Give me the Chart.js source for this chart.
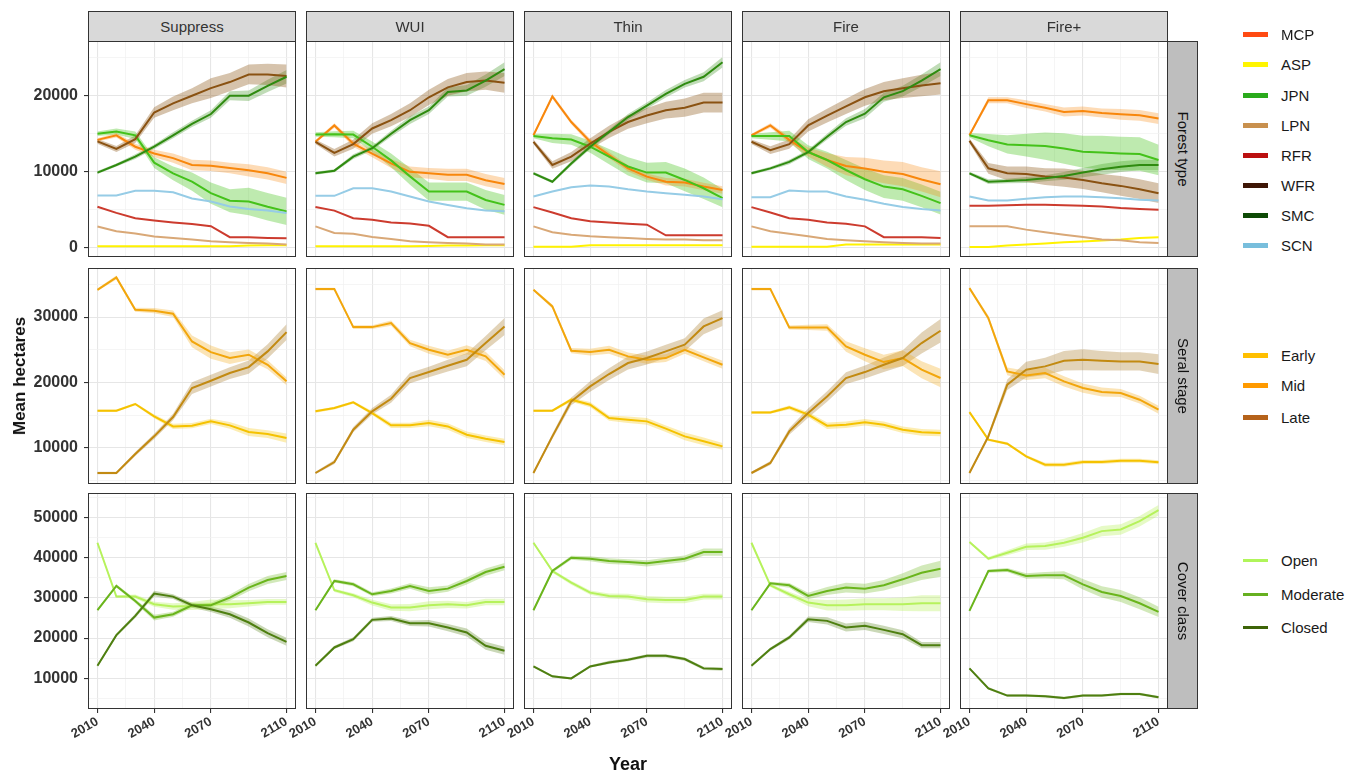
<!DOCTYPE html>
<html>
<head>
<meta charset="utf-8">
<script src="https://cdn.jsdelivr.net/npm/chart.js@4.4.1/dist/chart.umd.min.js"></script>
<style>
body { margin: 0; background: #fff; font-family: Arial, "Liberation Sans", sans-serif; }
#wrap { position: relative; width: 1359px; height: 774px; overflow: hidden; background: #fff; }
canvas { position: absolute; }
.strip { position: absolute; background: #d9d9d9; border: 1px solid #333; box-sizing: border-box; color: #333; font-size: 15px; display: flex; align-items: center; justify-content: center; }
.rstrip { position: absolute; background: #bebebe; border: 1px solid #333; box-sizing: border-box; color: #111; font-size: 15px; }
.rstrip span { position: absolute; left: 50%; top: 50%; transform: translate(-50%, -50%) rotate(90deg); white-space: nowrap; }
.key { position: absolute; width: 25px; }
.lab { position: absolute; font-size: 15px; color: #1a1a1a; transform: translateY(-50%); }
.title { position: absolute; font-weight: bold; font-size: 17px; color: #111; white-space: nowrap; }
</style>
</head>
<body>
<div id="wrap"></div>
<script>
// ---- data ----
const years = [2010, 2020, 2030, 2040, 2050, 2060, 2070, 2080, 2090, 2100, 2110];
const scenarios = ['Suppress', 'WUI', 'Thin', 'Fire', 'Fire+'];
const forestTypes = ['MCP', 'ASP', 'JPN', 'LPN', 'RFR', 'WFR', 'SMC', 'SCN'];
const seralStages = ['Early', 'Mid', 'Late'];
const coverClasses = ['Open', 'Moderate', 'Closed'];
const rowLabels = ['Forest type', 'Seral stage', 'Cover class'];

const xMajor = [2010, 2040, 2070, 2110];
const xMinor = [2025, 2055, 2090];
const forestMajor = [0, 10000, 20000];
const forestMinor = [5000, 15000, 25000];
const seralMajor = [10000, 20000, 30000];
const seralMinor = [5000, 15000, 25000, 35000];
const coverMajor = [10000, 20000, 30000, 40000, 50000];
const coverMinor = [5000, 15000, 25000, 35000, 45000, 55000];

// Forest type - Suppress
const suppressMCP = [14200, 14800, 13300, 12400, 11800, 10900, 10800, 10500, 10200, 9800, 9200];
const suppressASP = [200, 200, 200, 200, 200, 200, 200, 200, 300, 350, 350];
const suppressJPN = [15000, 15300, 14800, 11200, 9800, 8700, 7200, 6200, 6100, 5400, 4800];
const suppressLPN = [2800, 2200, 1900, 1500, 1300, 1100, 870, 740, 650, 570, 450];
const suppressRFR = [5400, 4600, 3900, 3600, 3350, 3150, 2850, 1400, 1400, 1300, 1250];
const suppressWFR = [14000, 13000, 14300, 17800, 19000, 20000, 21000, 21800, 22800, 22800, 22600];
const suppressSMC = [9900, 10900, 12000, 13300, 14800, 16300, 17600, 20000, 20000, 21300, 22500];
const suppressSCN = [6900, 6900, 7500, 7500, 7300, 6500, 6100, 5450, 5100, 4900, 4600];
const suppressMCPsd = [200, 300, 400, 500, 600, 700, 700, 700, 800, 800, 800];
const suppressJPNsd = [300, 400, 500, 700, 900, 1200, 1400, 1500, 1800, 1800, 1800];
const suppressWFRsd = [300, 400, 500, 700, 900, 1000, 1300, 1200, 1300, 1400, 1500];
const suppressSMCsd = [200, 200, 300, 300, 400, 400, 500, 600, 700, 800, 900];

// Forest type - WUI
const wuiMCP = [13950, 16100, 13700, 12400, 11100, 10000, 9800, 9600, 9600, 8900, 8400];
const wuiASP = [200, 200, 200, 200, 200, 200, 250, 300, 300, 350, 350];
const wuiJPN = [14900, 14950, 14900, 13300, 11500, 9400, 7400, 7400, 7400, 6300, 5650];
const wuiLPN = [2830, 1960, 1870, 1440, 1180, 870, 740, 650, 570, 440, 440];
const wuiRFR = [5360, 4900, 3900, 3700, 3350, 3200, 2900, 1400, 1400, 1400, 1400];
const wuiWFR = [13950, 12500, 13640, 15700, 16800, 18100, 19800, 21100, 21800, 22000, 21700];
const wuiSMC = [9800, 10150, 12000, 13100, 15000, 16800, 18100, 20500, 20700, 22000, 23500];
const wuiSCN = [6840, 6840, 7840, 7840, 7400, 6750, 6100, 5650, 5200, 4900, 4800];
const wuiMCPsd = [200, 300, 400, 500, 600, 700, 700, 800, 800, 800, 800];
const wuiJPNsd = [300, 400, 500, 700, 900, 1100, 1200, 1200, 1200, 1300, 1300];
const wuiWFRsd = [300, 500, 600, 700, 800, 900, 1000, 1100, 1200, 1200, 1300];
const wuiSMCsd = [200, 200, 300, 300, 400, 500, 500, 600, 700, 800, 900];

// Forest type - Thin
const thinMCP = [14800, 19900, 16550, 13950, 12200, 10450, 9370, 8700, 8580, 8060, 7600];
const thinASP = [150, 150, 150, 350, 350, 350, 350, 350, 350, 350, 350];
const thinJPN = [14700, 14400, 14250, 13300, 12000, 10700, 9900, 9900, 8930, 7840, 6540];
const thinLPN = [2830, 2050, 1740, 1530, 1400, 1300, 1180, 1090, 1090, 1000, 1000];
const thinRFR = [5360, 4660, 3900, 3500, 3350, 3180, 3050, 1650, 1650, 1650, 1650];
const thinWFR = [13950, 10900, 12000, 13700, 15250, 16550, 17400, 18100, 18430, 19100, 19100];
const thinSMC = [9800, 8700, 11100, 13300, 15250, 17200, 18700, 20260, 21570, 22500, 24400];
const thinSCN = [6750, 7400, 7970, 8200, 8060, 7700, 7400, 7190, 6970, 6750, 6400];
const thinMCPsd = [200, 300, 300, 400, 400, 400, 400, 500, 500, 500, 500];
const thinJPNsd = [300, 600, 700, 800, 1000, 1200, 1300, 1400, 1500, 1400, 1200];
const thinWFRsd = [300, 500, 600, 700, 800, 900, 1000, 1100, 1200, 1300, 1300];
const thinSMCsd = [200, 200, 300, 300, 300, 400, 400, 500, 500, 600, 700];

// Forest type - Fire
const fireMCP = [14800, 16100, 14200, 12600, 11550, 10760, 10450, 10000, 9700, 9000, 8370];
const fireASP = [150, 150, 150, 150, 150, 440, 440, 440, 440, 440, 440];
const fireJPN = [14700, 14700, 14700, 12600, 11550, 10240, 9020, 8060, 7700, 6840, 5880];
const fireLPN = [2830, 2180, 1870, 1530, 1180, 1000, 870, 740, 650, 570, 570];
const fireRFR = [5360, 4660, 3900, 3700, 3350, 3180, 2830, 1400, 1400, 1400, 1300];
const fireWFR = [13950, 12850, 13640, 16100, 17400, 18600, 19800, 20600, 21000, 21350, 21650];
const fireSMC = [9800, 10450, 11300, 12600, 14600, 16550, 17650, 19800, 20600, 22000, 23500];
const fireSCN = [6670, 6670, 7540, 7400, 7400, 6750, 6320, 5800, 5360, 5100, 4920];
const fireMCPsd = [200, 300, 400, 600, 900, 1200, 1400, 1500, 1600, 1600, 1700];
const fireJPNsd = [300, 500, 700, 900, 1100, 1300, 1400, 1500, 1500, 1500, 1500];
const fireWFRsd = [300, 500, 600, 800, 900, 1000, 1100, 1200, 1300, 1400, 1500];
const fireSMCsd = [200, 200, 300, 300, 400, 500, 600, 600, 700, 800, 900];

// Forest type - Fire+
const firePlusMCP = [14800, 19400, 19400, 18900, 18430, 17870, 18000, 17730, 17560, 17430, 17000];
const firePlusASP = [130, 130, 300, 440, 570, 740, 830, 960, 1090, 1300, 1400];
const firePlusJPN = [14800, 14160, 13600, 13500, 13380, 13070, 12640, 12550, 12420, 12330, 11550];
const firePlusLPN = [2830, 2830, 2830, 2400, 2050, 1740, 1440, 1090, 1000, 740, 650];
const firePlusRFR = [5530, 5530, 5620, 5660, 5660, 5620, 5530, 5450, 5230, 5100, 5010];
const firePlusWFR = [14070, 10460, 9800, 9700, 9370, 9240, 8930, 8500, 8150, 7710, 7190];
const firePlusSMC = [9800, 8710, 8800, 8930, 9150, 9460, 9900, 10330, 10680, 10900, 10900];
const firePlusSCN = [6750, 6230, 6230, 6450, 6670, 6750, 6750, 6670, 6540, 6320, 6230];
const firePlusMCPsd = [200, 400, 400, 500, 500, 600, 600, 600, 700, 700, 700];
const firePlusJPNsd = [300, 800, 1200, 1500, 1800, 2000, 2100, 2200, 2200, 2200, 2000];
const firePlusWFRsd = [300, 700, 900, 1000, 1100, 1200, 1200, 1200, 1300, 1300, 1300];
const firePlusSMCsd = [200, 300, 300, 400, 400, 500, 600, 700, 700, 700, 700];

// Seral stage
const suppressEarly = [15700, 15700, 16720, 14830, 13300, 13410, 14070, 13460, 12440, 12130, 11520];
const suppressMid = [34170, 36060, 31120, 30970, 30510, 26280, 24650, 23740, 24250, 22720, 20180];
const suppressLate = [6180, 6180, 9080, 11780, 14730, 19160, 20280, 21450, 22360, 24760, 27710];
const suppressEarlySd = [200, 200, 200, 300, 400, 400, 400, 500, 600, 600, 700];
const suppressMidSd = [200, 300, 300, 400, 500, 900, 1000, 900, 800, 700, 600];
const suppressLateSd = [200, 200, 300, 400, 500, 900, 900, 900, 1000, 1100, 1200];

const wuiEarly = [15600, 16100, 16970, 15340, 13460, 13460, 13810, 13300, 12030, 11420, 10910];
const wuiMid = [34280, 34280, 28470, 28470, 29080, 26030, 25010, 24250, 25010, 24000, 21190];
const wuiLate = [6180, 7860, 12800, 15600, 17530, 20690, 21600, 22570, 23480, 26030, 28570];
const wuiEarlySd = [200, 200, 200, 300, 400, 400, 500, 500, 500, 500, 500];
const wuiMidSd = [200, 200, 300, 300, 400, 500, 600, 600, 700, 700, 700];
const wuiLateSd = [200, 300, 400, 500, 600, 800, 800, 900, 1000, 1100, 1300];

const thinEarly = [15700, 15700, 17380, 16620, 14580, 14320, 14070, 12950, 11780, 11020, 10250];
const thinMid = [34170, 31630, 24860, 24650, 25010, 24000, 23490, 23740, 25010, 23840, 22720];
const thinLate = [6180, 11780, 17120, 19410, 21300, 22980, 23740, 24760, 25780, 28570, 29850];
const thinEarlySd = [200, 200, 300, 400, 400, 500, 500, 500, 600, 600, 500];
const thinMidSd = [200, 300, 400, 500, 600, 600, 600, 600, 600, 600, 600];
const thinLateSd = [200, 400, 600, 800, 900, 1000, 1000, 1000, 1000, 1200, 1200];

const fireEarly = [15440, 15440, 16200, 15090, 13410, 13560, 13920, 13560, 12800, 12390, 12290];
const fireMid = [34280, 34280, 28420, 28420, 28420, 25520, 24250, 23130, 23740, 21960, 20690];
const fireLate = [6180, 7710, 12540, 15340, 17880, 20690, 21600, 22720, 23740, 26030, 27910];
const fireEarlySd = [200, 200, 300, 400, 500, 500, 500, 500, 500, 500, 500];
const fireMidSd = [200, 200, 300, 400, 500, 800, 1000, 1100, 1200, 1300, 1400];
const fireLateSd = [200, 300, 500, 700, 800, 900, 1000, 1100, 1200, 1600, 1800];

const firePlusEarly = [15490, 11270, 10660, 8720, 7450, 7450, 7860, 7860, 8060, 8060, 7810];
const firePlusMid = [34430, 29850, 21700, 21090, 21450, 20180, 19160, 18550, 18400, 17380, 15850];
const firePlusLate = [6180, 11780, 19670, 21960, 22470, 23330, 23480, 23330, 23230, 23230, 22820];
const firePlusEarlySd = [200, 200, 200, 200, 300, 300, 300, 300, 300, 300, 300];
const firePlusMidSd = [200, 400, 600, 700, 800, 800, 700, 700, 600, 600, 600];
const firePlusLateSd = [200, 400, 800, 1200, 1300, 1500, 1600, 1500, 1400, 1400, 1500];

// Cover class
const suppressOpen = [43650, 30290, 30290, 28390, 27820, 27980, 28390, 28390, 28640, 28970, 28970];
const suppressModerate = [26910, 32930, 29220, 25090, 25920, 28150, 28150, 30040, 32520, 34410, 35400];
const suppressClosed = [13140, 20720, 25510, 31030, 30290, 28150, 27160, 25920, 23860, 21220, 19070];
const suppressOpenSd = [300, 300, 500, 600, 800, 1000, 1200, 1000, 800, 700, 700];
const suppressModerateSd = [300, 400, 500, 700, 600, 600, 600, 800, 900, 1000, 1000];
const suppressClosedSd = [300, 400, 500, 700, 600, 600, 700, 900, 1000, 1000, 1000];

const wuiOpen = [43650, 31860, 30620, 28810, 27570, 27570, 28150, 28390, 28150, 28970, 28970];
const wuiModerate = [26910, 34170, 33340, 30870, 31690, 32930, 31690, 32270, 34170, 36390, 37710];
const wuiClosed = [13140, 17670, 19730, 24520, 24850, 23690, 23690, 22620, 21380, 18080, 16850];
const wuiOpenSd = [300, 400, 500, 700, 800, 900, 1000, 900, 800, 800, 800];
const wuiModerateSd = [300, 400, 500, 500, 600, 700, 900, 800, 900, 900, 900];
const wuiClosedSd = [300, 400, 500, 500, 600, 700, 800, 900, 1000, 1000, 1000];

const thinOpen = [43650, 36640, 33750, 31280, 30450, 30290, 29630, 29470, 29470, 30290, 30290];
const thinModerate = [26910, 36640, 39940, 39690, 39110, 38870, 38540, 39110, 39690, 41340, 41340];
const thinClosed = [12970, 10500, 10000, 12970, 13960, 14620, 15610, 15610, 14790, 12480, 12310];
const thinOpenSd = [300, 400, 500, 500, 600, 700, 800, 800, 800, 700, 700];
const thinModerateSd = [300, 400, 500, 600, 700, 700, 800, 800, 800, 900, 900];
const thinClosedSd = [300, 300, 300, 300, 400, 400, 400, 400, 400, 400, 400];

const fireOpen = [43650, 33090, 30870, 28810, 28150, 28150, 28390, 28390, 28390, 28640, 28640];
const fireModerate = [26910, 33590, 33090, 30450, 31690, 32520, 32270, 33090, 34580, 36220, 37210];
const fireClosed = [13140, 17260, 20150, 24680, 24270, 22620, 23030, 22040, 20970, 18250, 18250];
const fireOpenSd = [300, 400, 600, 900, 1300, 1400, 1500, 1500, 1700, 2000, 2000];
const fireModerateSd = [300, 400, 600, 800, 1000, 1200, 1200, 1300, 1500, 1800, 2000];
const fireClosedSd = [300, 400, 500, 700, 900, 1000, 1000, 1000, 1000, 800, 800];

const firePlusOpen = [43820, 39690, 41180, 42660, 42830, 43650, 44890, 46540, 46950, 49010, 51730];
const firePlusModerate = [26740, 36640, 36890, 35400, 35570, 35570, 33340, 31440, 30450, 28640, 26500];
const firePlusClosed = [12480, 7530, 5720, 5720, 5550, 5140, 5720, 5720, 6130, 6130, 5300];
const firePlusOpenSd = [300, 400, 600, 800, 900, 1000, 1200, 1300, 1300, 1300, 1300];
const firePlusModerateSd = [300, 400, 500, 700, 800, 1000, 1300, 1400, 1500, 1500, 1300];
const firePlusClosedSd = [300, 300, 300, 300, 300, 300, 300, 300, 300, 300, 300];

// ---- tables built from the arrays above ----
const means = [
  [ // forest type
    {MCP: suppressMCP, ASP: suppressASP, JPN: suppressJPN, LPN: suppressLPN, RFR: suppressRFR, WFR: suppressWFR, SMC: suppressSMC, SCN: suppressSCN},
    {MCP: wuiMCP, ASP: wuiASP, JPN: wuiJPN, LPN: wuiLPN, RFR: wuiRFR, WFR: wuiWFR, SMC: wuiSMC, SCN: wuiSCN},
    {MCP: thinMCP, ASP: thinASP, JPN: thinJPN, LPN: thinLPN, RFR: thinRFR, WFR: thinWFR, SMC: thinSMC, SCN: thinSCN},
    {MCP: fireMCP, ASP: fireASP, JPN: fireJPN, LPN: fireLPN, RFR: fireRFR, WFR: fireWFR, SMC: fireSMC, SCN: fireSCN},
    {MCP: firePlusMCP, ASP: firePlusASP, JPN: firePlusJPN, LPN: firePlusLPN, RFR: firePlusRFR, WFR: firePlusWFR, SMC: firePlusSMC, SCN: firePlusSCN}
  ],
  [ // seral stage
    {Early: suppressEarly, Mid: suppressMid, Late: suppressLate},
    {Early: wuiEarly, Mid: wuiMid, Late: wuiLate},
    {Early: thinEarly, Mid: thinMid, Late: thinLate},
    {Early: fireEarly, Mid: fireMid, Late: fireLate},
    {Early: firePlusEarly, Mid: firePlusMid, Late: firePlusLate}
  ],
  [ // cover class
    {Open: suppressOpen, Moderate: suppressModerate, Closed: suppressClosed},
    {Open: wuiOpen, Moderate: wuiModerate, Closed: wuiClosed},
    {Open: thinOpen, Moderate: thinModerate, Closed: thinClosed},
    {Open: fireOpen, Moderate: fireModerate, Closed: fireClosed},
    {Open: firePlusOpen, Moderate: firePlusModerate, Closed: firePlusClosed}
  ]
];
const spreads = [
  [
    {MCP: suppressMCPsd, JPN: suppressJPNsd, WFR: suppressWFRsd, SMC: suppressSMCsd},
    {MCP: wuiMCPsd, JPN: wuiJPNsd, WFR: wuiWFRsd, SMC: wuiSMCsd},
    {MCP: thinMCPsd, JPN: thinJPNsd, WFR: thinWFRsd, SMC: thinSMCsd},
    {MCP: fireMCPsd, JPN: fireJPNsd, WFR: fireWFRsd, SMC: fireSMCsd},
    {MCP: firePlusMCPsd, JPN: firePlusJPNsd, WFR: firePlusWFRsd, SMC: firePlusSMCsd}
  ],
  [
    {Early: suppressEarlySd, Mid: suppressMidSd, Late: suppressLateSd},
    {Early: wuiEarlySd, Mid: wuiMidSd, Late: wuiLateSd},
    {Early: thinEarlySd, Mid: thinMidSd, Late: thinLateSd},
    {Early: fireEarlySd, Mid: fireMidSd, Late: fireLateSd},
    {Early: firePlusEarlySd, Mid: firePlusMidSd, Late: firePlusLateSd}
  ],
  [
    {Open: suppressOpenSd, Moderate: suppressModerateSd, Closed: suppressClosedSd},
    {Open: wuiOpenSd, Moderate: wuiModerateSd, Closed: wuiClosedSd},
    {Open: thinOpenSd, Moderate: thinModerateSd, Closed: thinClosedSd},
    {Open: fireOpenSd, Moderate: fireModerateSd, Closed: fireClosedSd},
    {Open: firePlusOpenSd, Moderate: firePlusModerateSd, Closed: firePlusClosedSd}
  ]
];
const rowSeries = [forestTypes, seralStages, coverClasses];
const rowTicks = [[forestMajor, forestMinor], [seralMajor, seralMinor], [coverMajor, coverMinor]];
const rowRange = [[-1200, 27200], [4500, 37500], [2400, 56000]];

// ---- styles ----
const lineColors = {
  MCP: '#f8870c', ASP: '#fff200', JPN: '#44c21a', LPN: '#d9a877', RFR: '#cc3b2e',
  WFR: '#8a5212', SMC: '#2f8b10', SCN: '#96cce6',
  Early: '#f5c200', Mid: '#f2a60c', Late: '#c28a12',
  Open: '#b6f25c', Moderate: '#6ab51c', Closed: '#4e7f10'
};
const ribbonColors = {
  MCP: 'rgba(248,135,12,0.3)', JPN: 'rgba(68,194,26,0.35)', WFR: 'rgba(138,82,18,0.35)', SMC: 'rgba(47,139,16,0.3)',
  Early: 'rgba(245,194,0,0.3)', Mid: 'rgba(242,166,12,0.3)', Late: 'rgba(160,110,20,0.3)',
  Open: 'rgba(182,242,92,0.35)', Moderate: 'rgba(106,181,28,0.3)', Closed: 'rgba(78,127,16,0.3)'
};
const keyColors = {
  MCP: '#ff4a12', ASP: '#fff500', JPN: '#2aaa1c', LPN: '#c8904e', RFR: '#bb1010',
  WFR: '#3e1606', SMC: '#0e4a06', SCN: '#78bedc',
  Early: '#ffbf00', Mid: '#ff9a00', Late: '#b5621a',
  Open: '#b0f55a', Moderate: '#66b020', Closed: '#3d6408'
};

const colLeft = [88, 306, 524, 742, 960];
const rowTop = [41, 268, 493];
const PW = 208, PH = 216;
const fontFamily = 'Arial, "Liberation Sans", sans-serif';
Chart.defaults.font.family = fontFamily;

const wrap = document.getElementById('wrap');

const framePlugin = {
  id: 'frame',
  afterDraw(chart) {
    const {ctx, chartArea: a} = chart;
    ctx.save();
    ctx.strokeStyle = '#333';
    ctx.lineWidth = 1;
    ctx.strokeRect(Math.round(a.left) + 0.5, Math.round(a.top) + 0.5, Math.round(a.right - a.left) - 1, Math.round(a.bottom - a.top) - 1);
    ctx.restore();
  }
};

function makePanel(r, c) {
  const first = c === 0, bottom = r === 2;
  const yW = first ? 88 : 0, xH = bottom ? 62 : 0;
  const pad = {left: first ? 0 : 40, right: 14, top: 8, bottom: 4};
  const cv = document.createElement('canvas');
  cv.width = pad.left + yW + PW + pad.right;
  cv.height = pad.top + PH + xH + pad.bottom;
  cv.style.left = (colLeft[c] - yW - pad.left) + 'px';
  cv.style.top = (rowTop[r] - pad.top) + 'px';
  wrap.appendChild(cv);

  const names = rowSeries[r];
  const m = means[r][c], sd = spreads[r][c];
  const [yMajor, yMinor] = rowTicks[r];
  const sets = [];
  // ribbons first (filled between lower and upper bound)
  names.forEach(n => {
    if (!sd[n]) return;
    sets.push({data: years.map((x, i) => ({x, y: m[n][i] - sd[n][i]})), borderWidth: 0, pointRadius: 0, fill: false});
    sets.push({data: years.map((x, i) => ({x, y: m[n][i] + sd[n][i]})), borderWidth: 0, pointRadius: 0, fill: '-1', backgroundColor: ribbonColors[n]});
  });
  // mean lines, last series on top
  names.slice().reverse().forEach(n => {
    sets.push({data: years.map((x, i) => ({x, y: m[n][i]})), borderColor: lineColors[n], borderWidth: 2, pointRadius: 0, fill: false, tension: 0});
  });

  new Chart(cv, {
    type: 'line',
    data: {datasets: sets},
    options: {
      responsive: false,
      animation: false,
      devicePixelRatio: 1,
      layout: {padding: pad},
      plugins: {legend: {display: false}, tooltip: {enabled: false}, filler: {drawTime: 'beforeDatasetsDraw'}},
      scales: {
        x: {
          type: 'linear', min: 2005, max: 2115,
          afterBuildTicks: s => { s.ticks = xMajor.concat(xMinor).sort((a, b) => a - b).map(v => ({value: v})); },
          afterFit: s => { s.height = xH; s.paddingLeft = 0; s.paddingRight = 0; },
          border: {display: false},
          grid: {
            color: ctx => ctx.tick && xMajor.includes(ctx.tick.value) ? '#e6e6e6' : '#f1f1f1',
            lineWidth: ctx => ctx.tick && xMajor.includes(ctx.tick.value) ? 1.1 : 0.7,
            drawTicks: bottom, tickLength: 4,
            tickColor: ctx => ctx.tick && xMajor.includes(ctx.tick.value) ? '#333' : 'rgba(0,0,0,0)'
          },
          ticks: {
            display: bottom, autoSkip: false, minRotation: 30, maxRotation: 30, padding: 1,
            color: '#333', font: {size: 13, weight: 'bold'},
            callback: v => xMajor.includes(v) ? String(v) : ''
          }
        },
        y: {
          min: rowRange[r][0], max: rowRange[r][1],
          afterBuildTicks: s => { s.ticks = yMajor.concat(yMinor).sort((a, b) => a - b).map(v => ({value: v})); },
          afterFit: s => { s.width = yW; s.paddingTop = 0; s.paddingBottom = 0; },
          border: {display: false},
          grid: {
            color: ctx => ctx.tick && yMajor.includes(ctx.tick.value) ? '#e6e6e6' : '#f1f1f1',
            lineWidth: ctx => ctx.tick && yMajor.includes(ctx.tick.value) ? 1.1 : 0.7,
            drawTicks: first, tickLength: 4,
            tickColor: ctx => ctx.tick && yMajor.includes(ctx.tick.value) ? '#333' : 'rgba(0,0,0,0)'
          },
          ticks: {
            display: first, autoSkip: false, padding: 6, color: '#333', font: {size: 16, weight: 'bold'},
            callback: v => yMajor.includes(v) ? String(v) : ''
          }
        }
      }
    },
    plugins: [framePlugin]
  });
}

for (let r = 0; r < 3; r++) for (let c = 0; c < 5; c++) makePanel(r, c);

// facet strips
scenarios.forEach((s, c) => {
  const d = document.createElement('div');
  d.className = 'strip';
  d.style.left = colLeft[c] + 'px'; d.style.top = '11px';
  d.style.width = PW + 'px'; d.style.height = '31px';
  d.textContent = s;
  wrap.appendChild(d);
});
rowLabels.forEach((s, r) => {
  const d = document.createElement('div');
  d.className = 'rstrip';
  d.style.left = (colLeft[4] + PW - 1) + 'px'; d.style.top = rowTop[r] + 'px';
  d.style.width = '31px'; d.style.height = PH + 'px';
  const sp = document.createElement('span'); sp.textContent = s;
  d.appendChild(sp);
  wrap.appendChild(d);
});

// axis titles
const yt = document.createElement('div');
yt.className = 'title'; yt.textContent = 'Mean hectares';
yt.style.left = '20px'; yt.style.top = '376px';
yt.style.transform = 'translate(-50%, -50%) rotate(-90deg)';
wrap.appendChild(yt);
const xt = document.createElement('div');
xt.className = 'title'; xt.textContent = 'Year'; xt.style.fontSize = '18px';
xt.style.left = '628px'; xt.style.top = '764px';
xt.style.transform = 'translate(-50%, -50%)';
wrap.appendChild(xt);

// legends
function legend(names, ys, keyH) {
  names.forEach((n, i) => {
    const k = document.createElement('div');
    k.className = 'key';
    k.style.left = '1243px'; k.style.top = (ys[i] - keyH / 2) + 'px'; k.style.height = keyH + 'px';
    k.style.background = keyColors[n];
    wrap.appendChild(k);
    const l = document.createElement('div');
    l.className = 'lab'; l.textContent = n;
    l.style.left = '1281px'; l.style.top = ys[i] + 'px';
    wrap.appendChild(l);
  });
}
legend(forestTypes, [34, 64, 95, 125, 155, 185, 215, 245], 5);
legend(seralStages, [355, 385, 417], 5);
legend(coverClasses, [560, 594, 627], 3);
</script>
</body>
</html>
